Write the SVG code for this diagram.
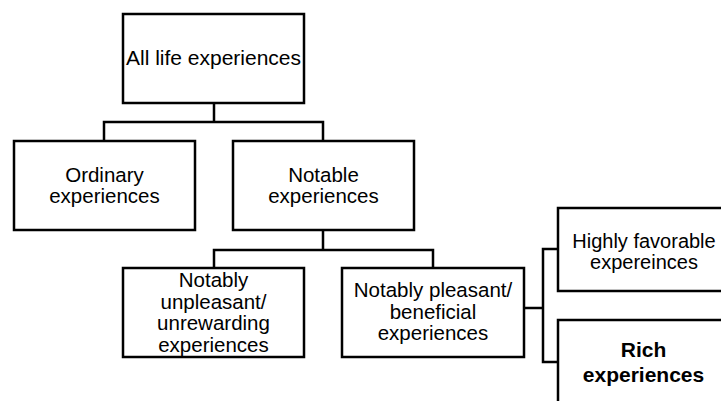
<svg xmlns="http://www.w3.org/2000/svg" width="721" height="401" viewBox="0 0 721 401">
  <style>
    .box { fill: #ffffff; stroke: #000000; stroke-width: 2.5; }
    .link { fill: none; stroke: #000000; stroke-width: 2.5; stroke-linejoin: miter; }
    .lbl { font-family: "Liberation Sans", Arial, sans-serif; font-size: 20.5px; fill: #000000; text-anchor: middle; }
    .big { font-size: 21px; }
    .sm { font-size: 20px; }
    .bold { font-weight: bold; font-size: 21px; }
  </style>
  <rect width="721" height="401" fill="#ffffff"/>

  <!-- tree connectors -->
  <g id="connectors">
    <path class="link" d="M214 103 V122 M104 141 V122 H323 V141"/>
    <path class="link" d="M323 230 V250 M214 268 V250 H433 V268"/>
    <path class="link" d="M524 308 H543 M558 249 H543 V362 H558"/>
  </g>

  <g id="root">
    <rect class="box" x="123" y="14" width="181" height="89"/>
    <text class="lbl big" x="213.5" y="65">All life experiences</text>
  </g>

  <g id="ordinary">
    <rect class="box" x="14" y="141" width="181" height="89"/>
    <text class="lbl" x="104.5" y="182">Ordinary</text>
    <text class="lbl" x="104.5" y="203">experiences</text>
  </g>

  <g id="notable">
    <rect class="box" x="233" y="141" width="181" height="89"/>
    <text class="lbl" x="323.5" y="182">Notable</text>
    <text class="lbl" x="323.5" y="203">experiences</text>
  </g>

  <g id="unpleasant">
    <rect class="box" x="123" y="268" width="181" height="89"/>
    <text class="lbl" x="213.5" y="287">Notably</text>
    <text class="lbl" x="213.5" y="309">unpleasant/</text>
    <text class="lbl" x="213.5" y="330">unrewarding</text>
    <text class="lbl" x="213.5" y="351.5">experiences</text>
  </g>

  <g id="pleasant">
    <rect class="box" x="342" y="268" width="182" height="89"/>
    <text class="lbl" x="433" y="297">Notably pleasant/</text>
    <text class="lbl" x="433" y="319">beneficial</text>
    <text class="lbl" x="433" y="340">experiences</text>
  </g>

  <g id="favorable">
    <rect class="box" x="558" y="208" width="181" height="83"/>
    <text class="lbl sm" x="644" y="248">Highly favorable</text>
    <text class="lbl sm" x="644" y="269">expereinces</text>
  </g>

  <g id="rich">
    <rect class="box" x="558" y="320" width="181" height="95"/>
    <text class="lbl bold" x="643.5" y="357">Rich</text>
    <text class="lbl bold" x="643.5" y="382">experiences</text>
  </g>
</svg>
